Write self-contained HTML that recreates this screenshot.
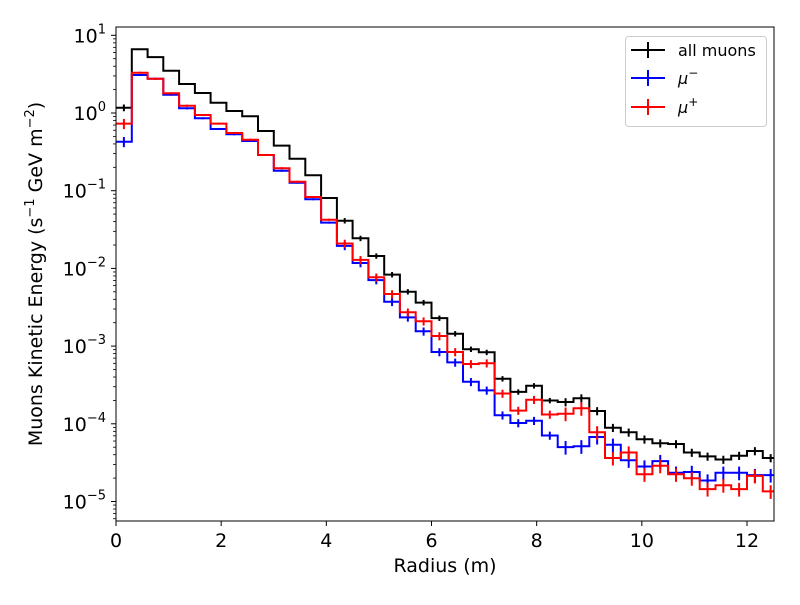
<!DOCTYPE html>
<html><head><meta charset="utf-8">
<style>
body{margin:0;background:#fff;}
svg text{font-family:"DejaVu Sans","Liberation Sans",sans-serif;}
</style></head>
<body>
<svg id="chart" width="800" height="600" xmlns="http://www.w3.org/2000/svg">
<rect width="800" height="600" fill="#fff"/>
<g id="marks"></g>
<g id="axes"></g>
</svg>
<script>
const binWidth = 0.3;
const logAll = [0.068,0.82,0.72,0.544,0.373,0.257,0.133,0.026,-0.043,-0.232,-0.42,-0.588,-0.80,-1.094,-1.386,-1.613,-1.84,-2.08,-2.30,-2.44,-2.64,-2.84,-3.04,-3.08,-3.42,-3.59,-3.51,-3.70,-3.72,-3.67,-3.835,-4.05,-4.11,-4.20,-4.25,-4.26,-4.37,-4.42,-4.46,-4.41,-4.35,-4.44];
const logMinus = [-0.369,0.489,0.44,0.236,0.06,-0.068,-0.206,-0.274,-0.36,-0.54,-0.743,-0.897,-1.11,-1.41,-1.71,-1.93,-2.15,-2.43,-2.63,-2.81,-3.076,-3.21,-3.46,-3.57,-3.89,-3.99,-3.96,-4.15,-4.30,-4.29,-4.17,-4.27,-4.47,-4.55,-4.48,-4.63,-4.62,-4.73,-4.63,-4.63,-4.66,-4.66];
const logPlus = [-0.137,0.519,0.44,0.253,0.094,-0.026,-0.137,-0.257,-0.343,-0.54,-0.71,-0.884,-1.081,-1.373,-1.68,-1.89,-2.115,-2.33,-2.565,-2.68,-2.87,-3.076,-3.23,-3.22,-3.61,-3.83,-3.69,-3.88,-3.87,-3.80,-4.11,-4.44,-4.37,-4.65,-4.54,-4.65,-4.70,-4.84,-4.79,-4.84,-4.67,-4.87];
const xTicks = [0,2,4,6,8,10,12];
const yDecades = [1,0,-1,-2,-3,-4,-5];

const X0=116,X1=774,Y0=27,Y1=521;
function xs(v){return X0+v*(747-116)/12;}
function ys(l){return 113-77.7*l;}
const NS="http://www.w3.org/2000/svg";
function mk(tag,attrs,parent){const e=document.createElementNS(NS,tag);for(const k in attrs)e.setAttribute(k,attrs[k]);parent.appendChild(e);return e;}
const marks=document.getElementById('marks');
const axes=document.getElementById('axes');
const clip=mk('clipPath',{id:'pc'},document.getElementById('chart'));
mk('rect',{x:X0,y:Y0,width:X1-X0,height:Y1-Y0},clip);
marks.setAttribute('clip-path','url(#pc)');

function drawSeries(vals,color,name,relErr){
  let d='';
  vals.forEach((l,i)=>{
    const xa=xs(i*binWidth),xb=xs((i+1)*binWidth),y=ys(l);
    d+=(i===0?'M':'L')+xa.toFixed(1)+','+y.toFixed(1)+'L'+xb.toFixed(1)+','+y.toFixed(1);
  });
  const p=mk('path',{d:d,fill:'none',stroke:color,'stroke-width':2},marks);
  
  
  vals.forEach((l,i)=>{
    const xc=xs((i+0.5)*binWidth);
    const e=relErr[i];
    const ln=mk('line',{x1:xc,x2:xc,y1:ys(Math.log10(Math.pow(10,l)*(1+e))),y2:ys(Math.log10(Math.pow(10,l)*(1-e))),stroke:color,'stroke-width':2},marks);
    
    
  });
}
const errAll = logAll.map((l,i)=> i===0?0.1:(i<14?0.02:(i<28?0.08:0.12)));
const errMinus = logMinus.map((l,i)=> i===0?0.15:(i<14?0.03:(i<28?0.12:0.2)));
const errPlus = logPlus.map((l,i)=> i===0?0.15:(i<14?0.03:(i<28?0.12:0.2)));
drawSeries(logAll,'#000','all-muons',errAll);
drawSeries(logMinus,'#0000ff','mu-minus',errMinus);
drawSeries(logPlus,'#ff0000','mu-plus',errPlus);

const fr=mk('rect',{x:X0,y:Y0,width:X1-X0,height:Y1-Y0,fill:'none',stroke:'#000','stroke-width':1},axes);


xTicks.forEach(t=>{
  const x=xs(t);
  const tk=mk('line',{x1:x,x2:x,y1:Y1,y2:Y1+5,stroke:'#000','stroke-width':1},axes);
  
  
  const tx=mk('text',{x:x,y:Y1+26,'text-anchor':'middle','font-size':19},axes);
  tx.textContent=t;
  
  
});
yDecades.forEach(dd=>{
  const y=ys(dd);
  const tk=mk('line',{x1:X0-5,x2:X0,y1:y,y2:y,stroke:'#000','stroke-width':1},axes);
  
  
  const tx=mk('text',{x:X0-10,y:y+7,'text-anchor':'end','font-size':19},axes);
  
  
  const a=document.createElementNS(NS,'tspan');a.textContent='10';tx.appendChild(a);
  const b=document.createElementNS(NS,'tspan');b.setAttribute('dy','-9');b.setAttribute('font-size','13');b.textContent=(dd<0?'\u2212':'')+Math.abs(dd);tx.appendChild(b);
  for(let m=2;m<10;m++){
    const ym=ys(dd-1+Math.log10(m));
    if(ym>Y1||ym<Y0)continue;
    const mt=mk('line',{x1:X0-3,x2:X0,y1:ym,y2:ym,stroke:'#000','stroke-width':0.8},axes);
    
    
  }
});
for(let m=2;m<10;m++){const ym=ys(1+Math.log10(m));if(ym>=Y0){const mt=mk('line',{x1:X0-3,x2:X0,y1:ym,y2:ym,stroke:'#000','stroke-width':0.8},axes);}}
</script>
<svg width="800" height="600" style="position:absolute;left:0;top:0" xmlns="http://www.w3.org/2000/svg">
<text x="445" y="572" text-anchor="middle" font-size="19" font-family="DejaVu Sans, sans-serif">Radius (m)</text>
<text transform="translate(42,274) rotate(-90)" text-anchor="middle" font-size="19" font-family="DejaVu Sans, sans-serif">Muons Kinetic Energy (s<tspan dy="-8" font-size="13">−1</tspan><tspan dy="8"> GeV m</tspan><tspan dy="-8" font-size="13">−2</tspan><tspan dy="8">)</tspan></text>
<g font-family="DejaVu Sans, sans-serif">
<rect x="625.5" y="36.5" width="141" height="90" rx="3" fill="#fff" fill-opacity="0.8" stroke="#ccc"/>
<g><line x1="631" x2="665" y1="50" y2="50" stroke="#000" stroke-width="2"/><line x1="648" x2="648" y1="42" y2="58" stroke="#000" stroke-width="2"/><text x="678" y="56" font-size="16">all muons</text></g>
<g><line x1="631" x2="665" y1="78" y2="78" stroke="#00f" stroke-width="2"/><line x1="648" x2="648" y1="70" y2="86" stroke="#00f" stroke-width="2"/><text x="678" y="84" font-size="16" font-style="italic">μ<tspan dy="-7" font-size="12" font-style="normal">−</tspan></text></g>
<g><line x1="631" x2="665" y1="107" y2="107" stroke="#f00" stroke-width="2"/><line x1="648" x2="648" y1="99" y2="115" stroke="#f00" stroke-width="2"/><text x="678" y="113" font-size="16" font-style="italic">μ<tspan dy="-7" font-size="12" font-style="normal">+</tspan></text></g>
</g>
</svg>
</body></html>
